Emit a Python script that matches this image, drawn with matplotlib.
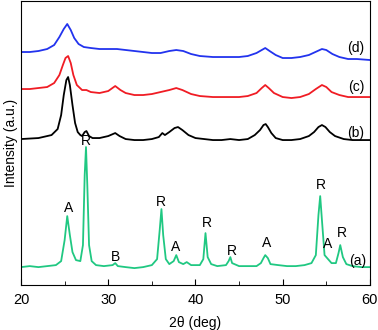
import matplotlib
matplotlib.use("Agg")
import matplotlib.pyplot as plt
from matplotlib.ticker import MultipleLocator

plt.rcParams['font.family'] = ['Liberation Sans', 'DejaVu Sans']

# 2theta (deg) and intensity (a.u., offset traces)
xa = [20, 21, 22, 23, 24, 24.6, 25.0, 25.3, 25.6, 25.9, 26.3, 26.8, 27.1, 27.3, 27.45, 27.6,
      27.8, 28.1, 28.6, 29.5, 30.5, 30.8, 31.1, 32, 33, 34, 35, 35.6, 35.9, 36.1, 36.3, 36.6,
      37.0, 37.5, 37.8, 38.1, 38.6, 39.0, 39.5, 40.5, 40.9, 41.15, 41.4, 41.8, 42.5, 43.5,
      43.8, 44.0, 44.2, 45, 46, 47, 47.5, 47.8, 48.0, 48.3, 48.6, 49.5, 50.5, 51.5, 52.5,
      53.3, 53.8, 54.1, 54.3, 54.5, 54.8, 55.0, 55.2, 55.6, 56.1, 56.4, 56.6, 56.9, 57.3,
      58, 59, 60]
ya = [18, 19, 18, 19, 20, 24, 45, 69, 50, 33, 25, 24, 40, 110, 138, 100,
      40, 24, 20, 19, 20, 22, 19, 18, 17, 18, 20, 26, 55, 76, 50, 26,
      21, 24, 30, 23, 21, 23, 20, 20, 26, 52, 28, 21, 19, 20,
      24, 28, 22, 19, 19, 19, 22, 27, 30, 27, 21, 20, 19, 19, 20,
      22, 30, 70, 89, 65, 30, 28, 26, 22, 22, 32, 40, 28, 21,
      19, 18, 18]

xb = [20, 22, 23.5, 24.2, 24.6, 24.9, 25.2, 25.4, 25.6, 25.9, 26.2, 26.5, 26.8, 27.0, 27.3,
      27.5, 27.8, 28.2, 29, 30, 30.8, 31.3, 32, 33, 34, 35, 35.8, 36.2, 36.5, 37, 37.6, 38.0,
      38.5, 39.2, 40, 41, 42, 43, 44, 45, 46, 46.8, 47.4, 47.8, 48.05, 48.3, 48.7, 49.2, 50,
      51, 52, 53, 53.6, 54.1, 54.5, 54.9, 55.4, 56, 57, 58, 59, 60]
yb = [146, 147, 150, 156, 170, 190, 205, 208, 200, 180, 162, 153, 150, 149, 153,
      154, 149, 147, 147, 149, 152, 149, 146, 145, 145, 146, 148, 152, 150, 153, 157, 158,
      155, 150, 147, 146, 145, 145, 146, 145, 146, 150, 155, 160, 161, 158, 152, 147, 145,
      145, 146, 149, 153, 158, 160, 158, 153, 149, 146, 145, 145, 145]

xc = [20, 21, 22, 23, 23.8, 24.4, 24.8, 25.1, 25.4, 25.7, 26.0, 26.4, 27, 27.5, 28, 29, 30,
      30.8, 31.4, 32, 33, 34, 35, 36, 37, 37.8, 38.5, 39.5, 40.5, 42, 43, 44, 45, 46, 47,
      47.6, 48.0, 48.4, 49, 50, 51, 52, 53, 53.8, 54.5, 55.0, 55.6, 56.5, 57.5, 58.5, 60]
yc = [196, 196, 197, 198, 202, 210, 220, 227, 229, 222, 210, 200, 195, 195, 193, 192, 194,
      199, 195, 192, 190, 190, 191, 193, 195, 197, 195, 191, 189, 188, 188, 188, 188, 189, 192,
      197, 200, 197, 192, 188, 187, 188, 191, 196, 200, 198, 193, 190, 188, 188, 188]

xd = [20, 21, 22, 23, 23.8, 24.4, 24.9, 25.3, 25.7, 26.1, 26.6, 27.2, 28, 29, 30, 31, 32,
      33, 34, 35, 36, 37, 37.8, 38.6, 39.5, 40.5, 42, 43, 44, 45, 46, 47, 47.6, 48.0, 48.5,
      49.2, 50, 51, 52, 53, 54, 54.5, 55, 55.7, 56.5, 57.5, 58.5, 60]
yd = [233, 233, 234, 236, 240, 248, 256, 261, 255, 247, 241, 238, 237, 236, 236, 236, 235,
      234, 233, 232, 232, 234, 235, 234, 231, 229, 228, 228, 228, 228, 229, 232, 235, 237, 234,
      230, 227, 227, 228, 230, 234, 236, 235, 231, 228, 226, 226, 225]

# phase labels on trace (a)
peak_x = [25.4, 27.45, 30.8, 36.05, 37.76, 41.3, 44.2, 48.2, 54.4, 55.2, 56.8]
peak_y = [77, 144, 28, 83, 38, 62, 34, 42, 100, 41, 52]
peak_txt = ['A', 'R', 'B', 'R', 'A', 'R', 'R', 'A', 'R', 'A', 'R']

trace_lbl = ['(a)', '(b)', '(c)', '(d)']
lbl_x = [58.6, 58.4, 58.4, 58.4]
lbl_y = [24, 152, 198, 237]

fig = plt.figure(figsize=(3.78, 3.30), dpi=100)
ax = fig.add_axes([0.0556, 0.136, 0.923, 0.861])

ax.plot(xa, ya, color='#20c882', lw=1.3)
ax.plot(xb, yb, color='black', lw=1.3)
ax.plot(xc, yc, color='#f01c24', lw=1.3)
ax.plot(xd, yd, color='#2233ee', lw=1.3)

for x, y, t in zip(peak_x, peak_y, peak_txt):
    ax.text(x, y, t, ha='center', va='center', fontsize=10)
for x, y, t in zip(lbl_x, lbl_y, trace_lbl):
    ax.text(x, y, t, ha='center', va='center', fontsize=10)

ax.set_xlim(20, 60)
ax.set_ylim(0, 284)
ax.xaxis.set_major_locator(MultipleLocator(10))
ax.xaxis.set_minor_locator(MultipleLocator(5))
ax.tick_params(axis='x', which='major', direction='in', length=4.5, labelsize=10.5, pad=6)
ax.tick_params(axis='x', which='minor', direction='in', length=3)
ax.set_yticks([])
ax.set_xlabel('2\u03b8 (deg)', fontsize=10, labelpad=6)
ax.set_ylabel('Intensity (a.u.)', fontsize=10, labelpad=2)

fig.savefig('out.png', dpi=100)
